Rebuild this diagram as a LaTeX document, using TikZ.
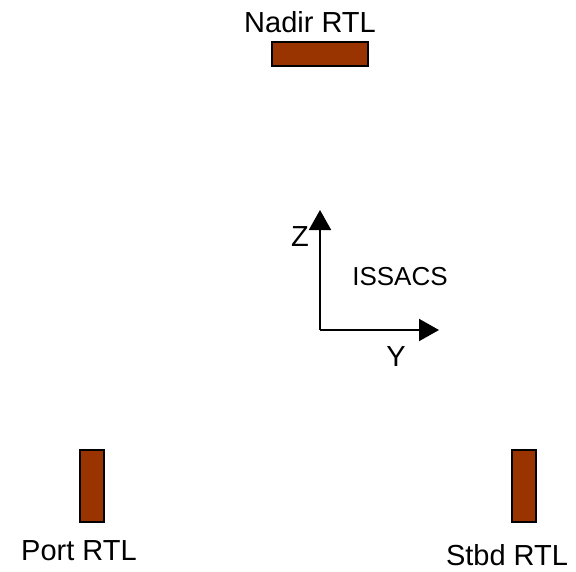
\documentclass[tikz,border=0pt]{standalone}
\usepackage{fontspec}
\setmainfont{Liberation Sans}
\usepackage{xcolor}
\usetikzlibrary{arrows.meta, positioning}
\definecolor{rtlfill}{HTML}{993300}

\begin{document}
\begin{tikzpicture}[
		x=1pt, y=-1pt,
		font=\fontsize{29}{35}\selectfont,
		rtl/.style={draw=black, line width=2pt, fill=rtlfill, inner sep=0pt},
		axis/.style={-{Triangle[length=20pt, width=22pt]}, line width=2pt},
		lab/.style={inner sep=0pt}
		]
		
		% Frame
		\useasboundingbox (0,0) rectangle (576,571);
		
		% Transmitters
		\node[rtl, minimum width=96pt, minimum height=24pt] (nadir) at (320,54) {};
		\node[rtl, minimum width=24pt, minimum height=72pt] (port) at (92,486) {};
		\node[rtl, minimum width=24pt, minimum height=72pt] (stbd) at (524,486) {};
		
		% Labels
		\node[lab] (nadirlab) at (310,22) {Nadir RTL};
		\node[lab] (portlab) at (79,551) {Port RTL};
		\node[lab] (stbdlab) at (507,555) {Stbd RTL};
		
		% ISSACS frame
		\coordinate (O) at (320,330);
		\coordinate (Ztip) at (320,210);
		\coordinate (Ytip) at (439,330);
		\draw[axis] (O) -- (Ztip);
		\draw[axis] (O) -- (Ytip);
		\node[lab] (zlab) at (300,237) {Z};
		\node[lab] (ylab) at (396,357) {Y};
		\node[lab, font=\fontsize{26}{31}\selectfont] (frame) at (400,277) {ISSACS};
		
	\end{tikzpicture}
\end{document}
